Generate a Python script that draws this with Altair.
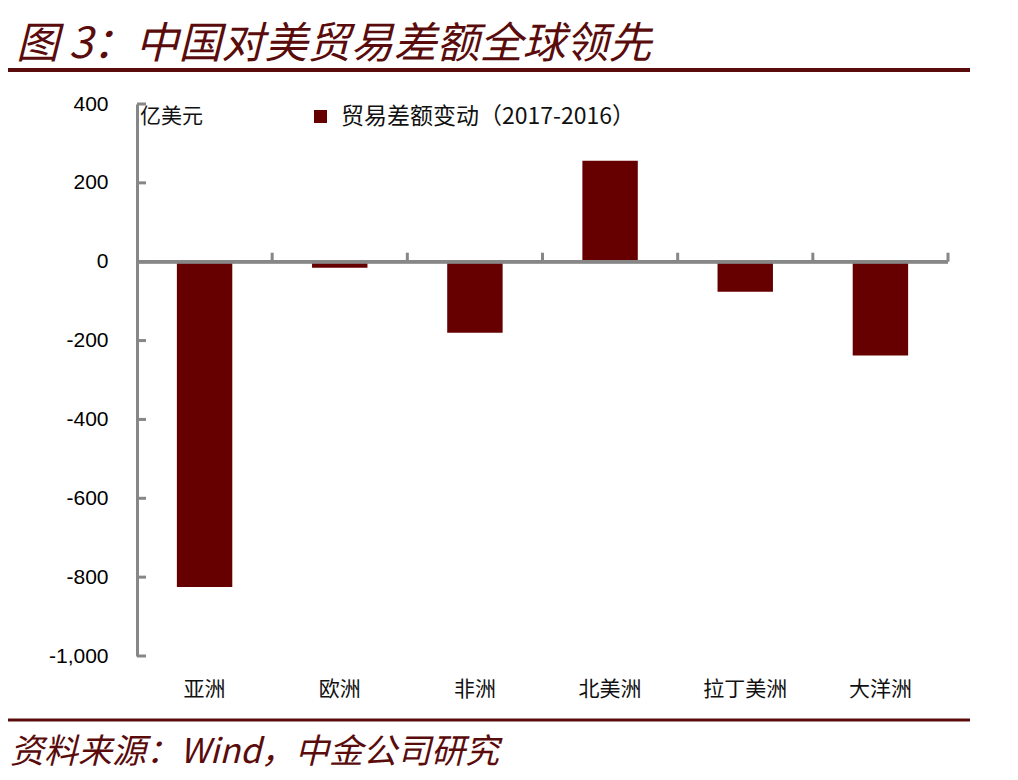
import altair as alt
import pandas as pd

categories = ["亚洲", "欧洲", "非洲", "北美洲", "拉丁美洲", "大洋洲"]
values = [-825, -15, -180, 256, -76, -238]
series_name = "贸易差额变动（2017-2016）"
y_ticks = [-1000, -800, -600, -400, -200, 0, 200, 400]
title_text = "图 3：中国对美贸易差额全球领先"
source_text = "资料来源：Wind，中金公司研究"
unit_text = "亿美元"

RED = "#660000"
DARK = "#5a0c0c"
GRAY = "#878787"
CJK = "Noto Sans CJK SC"

df = pd.DataFrame({"cat": categories, "val": values, "series": [series_name] * len(categories)})
ticks_df = pd.DataFrame({"v": y_ticks})

W, H = 811, 552

xenc = alt.X("cat:N", sort=categories,
             scale=alt.Scale(paddingInner=0, paddingOuter=0),
             axis=alt.Axis(title=None, domain=False, ticks=False, grid=False, labelFontSize=21,
                           labelFont=CJK, labelColor="#111", labelPadding=22, labelAngle=0))
yscale = alt.Scale(domain=[-1000, 400], nice=False, zero=False)

bars = alt.Chart(df).mark_bar(width=alt.RelativeBandSize(0.41)).encode(
    x=xenc,
    y=alt.Y("val:Q", scale=yscale,
            axis=alt.Axis(title=None, values=y_ticks, ticks=False,
                          labelExpr="replace(format(datum.value, ',d'), '\u2212', '-')",
                          domainColor=GRAY, domainWidth=3, grid=False,
                          labelFont="Liberation Sans", labelFontSize=21, labelColor="#000",
                          labelPadding=29)),
    color=alt.Color("series:N", scale=alt.Scale(range=[RED]),
                    legend=alt.Legend(title=None, orient="none", legendX=172, legendY=1,
                                      symbolType="square", symbolSize=170, symbolStrokeWidth=0,
                                      symbolFillColor=RED, labelFont=CJK, labelFontSize=23,
                                      labelOffset=9, labelColor="#111", labelLimit=600)),
)

zero_line = alt.Chart(df).mark_rule(color=GRAY, strokeWidth=3).encode(y=alt.datum(0))

bounds = alt.Chart(df).mark_rule(color=GRAY, strokeWidth=3, y2Offset=-9).encode(
    x=alt.X("cat:N", sort=categories, bandPosition=1),
    y=alt.datum(0), y2=alt.datum(0))

yticks = alt.Chart(ticks_df).mark_rule(color=GRAY, strokeWidth=3).encode(
    y=alt.Y("v:Q"), x=alt.value(0), x2=alt.value(9))

unit = alt.Chart(pd.DataFrame({"t": [unit_text]})).mark_text(
    font=CJK, fontSize=21, color="#111", align="left", baseline="top").encode(
    text="t:N", x=alt.value(3), y=alt.value(2))

title = alt.Chart(pd.DataFrame({"t": [title_text]})).mark_text(
    font=CJK, fontSize=43, fontStyle="italic", color=DARK, align="left",
    baseline="alphabetic").encode(text="t:N", x=alt.value(-121), y=alt.value(-46))

source = alt.Chart(pd.DataFrame({"t": [source_text]})).mark_text(
    font=CJK, fontSize=34, fontStyle="italic", color=DARK, align="left",
    baseline="alphabetic").encode(text="t:N", x=alt.value(-127), y=alt.value(659))

top_rule = alt.Chart(pd.DataFrame({"a": [0]})).mark_rule(color=DARK, strokeWidth=4).encode(
    x=alt.value(-129), x2=alt.value(833), y=alt.value(-34))
bottom_rule = alt.Chart(pd.DataFrame({"a": [0]})).mark_rule(color=DARK, strokeWidth=3).encode(
    x=alt.value(-129), x2=alt.value(833), y=alt.value(616))

chart = alt.layer(bars, zero_line, bounds, yticks, unit, title, source, top_rule, bottom_rule).properties(
    width=W, height=H,
    background="white",
    autosize=alt.AutoSizeParams(type="none"),
    padding={"left": 129, "top": 96, "right": 62, "bottom": 116},
).configure_view(stroke="transparent", strokeWidth=0).configure_axis(grid=False)

chart.save("out.html", embed_options={"renderer": "svg", "actions": False})
